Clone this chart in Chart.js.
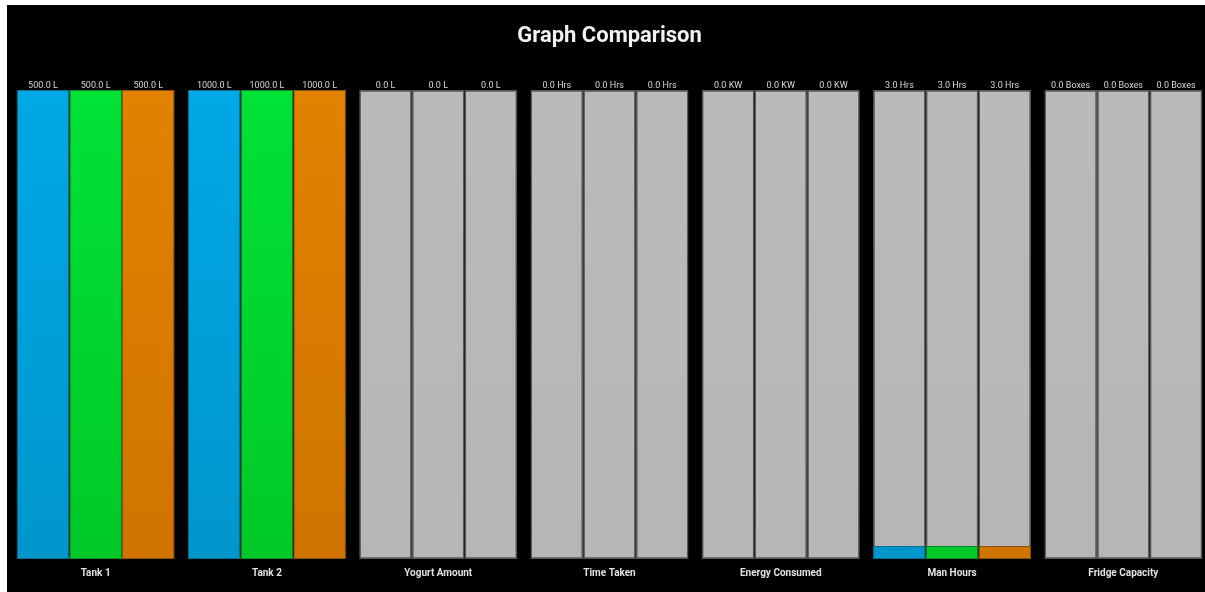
<!DOCTYPE html>
<html>
<head>
<meta charset="utf-8">
<title>Graph Comparison</title>
<script src="https://cdn.jsdelivr.net/npm/chart.js@4/dist/chart.umd.min.js"></script>
<style>
  html, body { margin: 0; padding: 0; background: #ffffff; overflow: hidden; width: 1205px; height: 592px; }
  #frame { position: absolute; left: 7px; top: 5px; width: 1205px; height: 587px; background: #000000; }
  canvas { display: block; }
</style>
</head>
<body>
<div id="frame"><canvas id="chart" width="1205" height="587"></canvas></div>
<script>
// Categories and their units
const categories = ['Tank 1', 'Tank 2', 'Yogurt Amount', 'Time Taken', 'Energy Consumed', 'Man Hours', 'Fridge Capacity'];
const units = ['L', 'L', 'L', 'Hrs', 'KW', 'Hrs', 'Boxes'];
// Full-scale capacity of each category (bar height = value / capacity)
const capacity = [500, 1000, 100, 100, 100, 108, 100];
// Measured values for the three compared runs
const seriesA = [500, 1000, 0, 0, 0, 3, 0];
const seriesB = [500, 1000, 0, 0, 0, 3, 0];
const seriesC = [500, 1000, 0, 0, 0, 3, 0];

const series = [seriesA, seriesB, seriesC];
const fillTop = ['#00a8e6', '#00e236', '#e28200'];
const fillBottom = ['#0096cc', '#00c828', '#d07400'];
const fillEdge = ['#0a6d92', '#0a8a22', '#8a5208'];

function percent(values) {
  return values.map((v, i) => capacity[i] ? (v / capacity[i]) * 100 : 0);
}

function gradientFor(idx) {
  return (ctx) => {
    const area = ctx.chart.chartArea;
    if (!area) return fillTop[idx];
    const g = ctx.chart.ctx.createLinearGradient(0, area.top, 0, area.bottom);
    g.addColorStop(0, fillTop[idx]);
    g.addColorStop(1, fillBottom[idx]);
    return g;
  };
}

function trackGradient(ctx) {
  const area = ctx.chart.chartArea;
  if (!area) return '#b9b9b9';
  const g = ctx.chart.ctx.createLinearGradient(0, area.top, 0, area.bottom);
  g.addColorStop(0, '#bababa');
  g.addColorStop(1, '#b6b6b6');
  return g;
}

const datasets = [];
series.forEach((values, idx) => {
  const pct = percent(values);
  datasets.push({
    label: 'run' + (idx + 1),
    stack: 's' + idx,
    data: pct,
    raw: values,
    backgroundColor: gradientFor(idx),
    borderColor: fillEdge[idx],
    borderWidth: (c) => (c.raw > 0 ? 1 : 0),
    borderSkipped: false
  });
  datasets.push({
    label: 'track' + (idx + 1),
    stack: 's' + idx,
    data: pct.map(p => 100 - p),
    isTrack: true,
    backgroundColor: trackGradient,
    borderColor: '#565656',
    borderWidth: (c) => (c.raw > 0 ? 1.5 : 0),
    borderSkipped: (c) => (pct[c.dataIndex] > 0 ? 'bottom' : false)
  });
});

// Value captions above each bar slot
const valueCaptions = {
  id: 'valueCaptions',
  afterDatasetsDraw(chart) {
    const ctx = chart.ctx;
    const yTop = chart.scales.y.getPixelForValue(100);
    ctx.save();
    ctx.font = '9px Roboto';
    ctx.fillStyle = '#d8d8d8';
    ctx.textAlign = 'center';
    ctx.textBaseline = 'bottom';
    chart.data.datasets.forEach((ds, di) => {
      if (ds.isTrack) return;
      const meta = chart.getDatasetMeta(di);
      meta.data.forEach((bar, i) => {
        const text = ds.raw[i].toFixed(1) + ' ' + units[i];
        ctx.fillText(text, bar.x, yTop);
      });
    });
    ctx.restore();
  }
};

new Chart(document.getElementById('chart'), {
  type: 'bar',
  data: { labels: categories, datasets },
  options: {
    responsive: false,
    animation: false,
    layout: { padding: { left: 3, right: 3, top: 0, bottom: 5 } },
    datasets: { bar: { barPercentage: 1, categoryPercentage: 0.9226 } },
    plugins: {
      legend: { display: false },
      tooltip: { enabled: false },
      title: {
        display: true,
        text: 'Graph Comparison',
        color: '#f2f2f2',
        font: { family: 'Roboto', size: 22, weight: 'bold' },
        padding: { top: 18, bottom: 40.6 }
      }
    },
    scales: {
      x: {
        stacked: true,
        grid: { display: false, drawTicks: false },
        border: { display: false },
        ticks: { color: '#e0e0e0', font: { family: 'Roboto', size: 10, weight: 'bold' }, padding: 8, maxRotation: 0 }
      },
      y: {
        stacked: true,
        display: false,
        min: 0,
        max: 100
      }
    }
  },
  plugins: [valueCaptions]
});
</script>
</body>
</html>
